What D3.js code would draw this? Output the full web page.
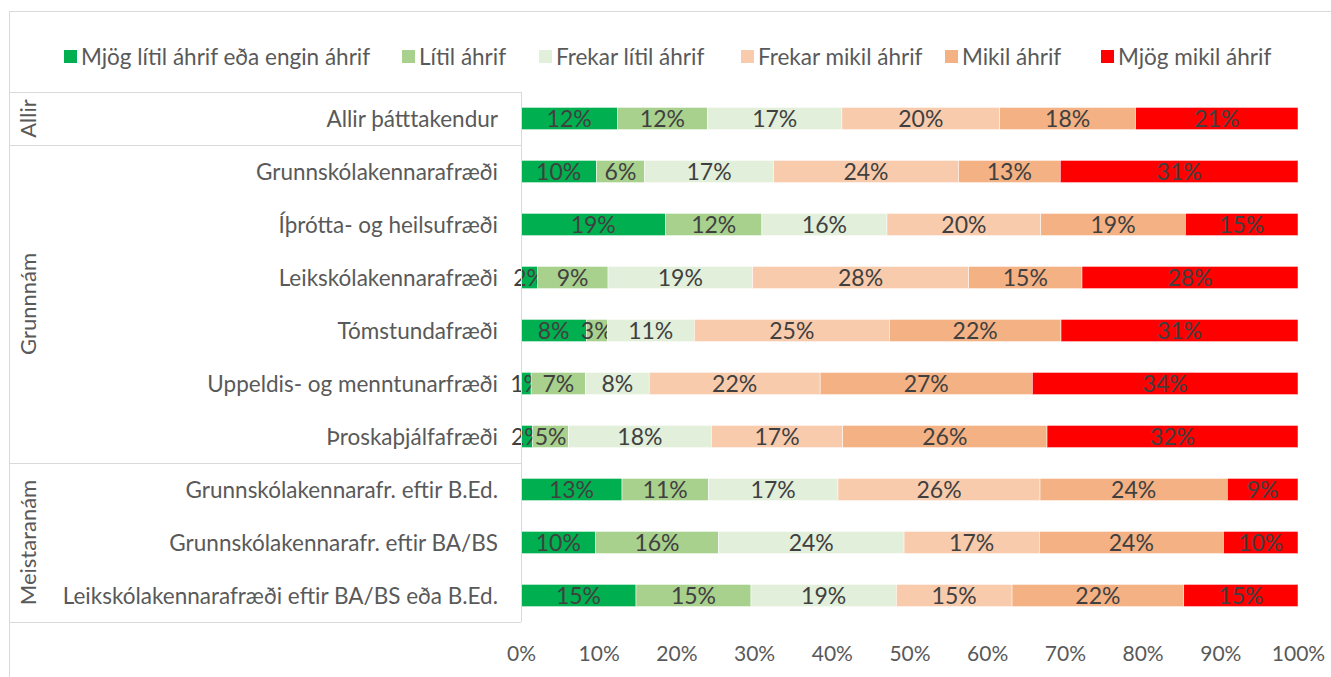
<!DOCTYPE html>
<html>
<head>
<meta charset="utf-8">
<script src="https://cdn.jsdelivr.net/npm/d3@7"></script>
<style>
  body { margin: 0; background: #fff; }
  svg text { font-family: Lato, "Open Sans", sans-serif; }
</style>
</head>
<body>
<div id="chart"></div>
<script>
// categories (top to bottom) and their groups
const categories = [
    'Allir þátttakendur',
    'Grunnskólakennarafræði',
    'Íþrótta- og heilsufræði',
    'Leikskólakennarafræði',
    'Tómstundafræði',
    'Uppeldis- og menntunarfræði',
    'Þroskaþjálfafræði',
    'Grunnskólakennarafr. eftir B.Ed.',
    'Grunnskólakennarafr. eftir BA/BS',
    'Leikskólakennarafræði eftir BA/BS eða B.Ed.'
];
const groups = [
    { name: 'Allir', first: 0, last: 0 },
    { name: 'Grunnnám', first: 1, last: 6 },
    { name: 'Meistaranám', first: 7, last: 9 }
];

const seriesNames = [
    'Mjög lítil áhrif eða engin áhrif',
    'Lítil áhrif',
    'Frekar lítil áhrif',
    'Frekar mikil áhrif',
    'Mikil áhrif',
    'Mjög mikil áhrif'
];
const seriesColors = ['#00B050', '#A9D18E', '#E2EFDA', '#F8CBAD', '#F4B183', '#FF0000'];

// percentages per series, same order as categories
const mjogLitil   = [12.4,  9.7, 18.6,  2.1,  8.4,  1.3,  1.5, 13.0,  9.6, 14.8];
const litil       = [11.6,  6.2, 12.4,  9.1,  2.7,  7.0,  4.6, 11.1, 15.8, 14.8];
const frekarLitil = [17.3, 16.6, 16.1, 18.6, 11.2,  8.2, 18.4, 16.7, 23.9, 18.7];
const frekarMikil = [20.3, 23.8, 19.8, 27.8, 25.1, 22.0, 16.9, 26.0, 17.4, 14.9];
const mikil       = [17.5, 13.1, 18.6, 14.6, 22.1, 27.3, 26.3, 24.1, 23.7, 22.1];
const mjogMikil   = [20.9, 30.6, 14.5, 27.8, 30.5, 34.2, 32.3,  9.1,  9.6, 14.7];

const xTicks = [0, 10, 20, 30, 40, 50, 60, 70, 80, 90, 100];

const seriesValues = [mjogLitil, litil, frekarLitil, frekarMikil, mikil, mjogMikil];

const width = 1331;
const height = 677;
const font = 'Lato, "Open Sans", sans-serif';

const svg = d3.select('#chart')
    .append('svg')
    .attr('width', width)
    .attr('height', height);

// chart border
svg.append('rect')
    .attr('x', 9.5).attr('y', 11.5)
    .attr('width', width + 10).attr('height', height + 10)
    .attr('fill', 'none')
    .attr('stroke', '#D9D9D9');

const x = d3.scaleLinear().domain([0, 100]).range([521, 1298]);
const y = d3.scaleBand().domain(categories).range([92, 622])
    .paddingInner(0.58).paddingOuter(0.29);
const step = y.step();

// table rows for d3.stack
const rows = categories.map((c, i) => {
    const r = { cat: c };
    seriesNames.forEach((s, j) => { r[s] = seriesValues[j][i]; });
    return r;
});
const stacked = d3.stack().keys(seriesNames)(rows);

// bars
const layer = svg.append('g')
    .selectAll('g')
    .data(stacked)
    .join('g')
    .attr('fill', (d, i) => seriesColors[i]);

layer.selectAll('rect')
    .data(d => d)
    .join('rect')
    .attr('x', d => x(d[0]))
    .attr('y', d => y(d.data.cat))
    .attr('width', d => x(d[1]) - x(d[0]))
    .attr('height', y.bandwidth())
    .attr('stroke', '#fff')
    .attr('stroke-width', 0.5);

// data labels
layer.selectAll('text')
    .data(d => d)
    .join('text')
    .attr('x', d => (x(d[0]) + x(d[1])) / 2)
    .attr('y', d => y(d.data.cat) + y.bandwidth() / 2)
    .attr('dy', '0.36em')
    .attr('text-anchor', 'middle')
    .attr('font-size', 23)
    .attr('fill', '#404040')
    .text(d => Math.round(d[1] - d[0]) + '%');

// vertical axis line
svg.append('line')
    .attr('x1', x(0) + 0.5).attr('x2', x(0) + 0.5)
    .attr('y1', 92).attr('y2', 622)
    .attr('stroke', '#D9D9D9');

// group separators (multi-level category axis)
groups.forEach(g => {
    const top = y(categories[g.first]) - (step - y.bandwidth()) / 2;
    const bottom = y(categories[g.last]) + y.bandwidth() + (step - y.bandwidth()) / 2;
    [top, bottom].forEach(v => {
        svg.append('line')
            .attr('x1', 9).attr('x2', x(0))
            .attr('y1', Math.round(v) + 0.5).attr('y2', Math.round(v) + 0.5)
            .attr('stroke', '#D9D9D9');
    });
    svg.append('text')
        .attr('transform', `translate(36,${(top + bottom) / 2}) rotate(-90)`)
        .attr('text-anchor', 'middle')
        .attr('font-size', 22)
        .attr('fill', '#595959')
        .text(g.name);
});

// category labels
svg.append('g')
    .selectAll('text')
    .data(categories)
    .join('text')
    .attr('x', 498)
    .attr('y', d => y(d) + y.bandwidth() / 2)
    .attr('dy', '0.36em')
    .attr('text-anchor', 'end')
    .attr('font-size', 22.5)
    .attr('fill', '#595959')
    .text(d => d);

// x axis
const xAxis = svg.append('g')
    .attr('transform', 'translate(0,622)')
    .call(d3.axisBottom(x).tickValues(xTicks).tickSize(0).tickPadding(24)
        .tickFormat(d => d + '%'));
xAxis.select('.domain').remove();
xAxis.selectAll('text')
    .attr('font-size', 21)
    .attr('fill', '#595959')
    .style('font-family', font);

// legend
const legendX = [64, 402, 539, 741, 945, 1101];
const legend = svg.append('g')
    .selectAll('g')
    .data(seriesNames)
    .join('g')
    .attr('transform', (d, i) => `translate(${legendX[i]},50)`);

legend.append('rect')
    .attr('width', 13).attr('height', 13)
    .attr('fill', (d, i) => seriesColors[i]);

legend.append('text')
    .attr('x', 17).attr('y', 7)
    .attr('dy', '0.36em')
    .attr('font-size', 22.5)
    .attr('fill', '#595959')
    .text(d => d);
</script>
</body>
</html>
